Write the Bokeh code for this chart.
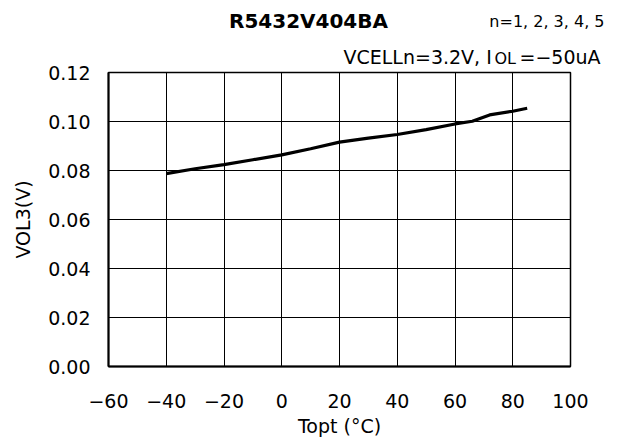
from bokeh.plotting import figure
from bokeh.models import Range1d, FixedTicker, NumeralTickFormatter
from bokeh.layouts import column
from bokeh.core.properties import value
from bokeh.embed import file_html
from bokeh.resources import INLINE

# ---- data ----
temps = [-40, -30, -20, -10, 0, 10, 20, 30, 40, 50, 60, 66, 72, 80, 85]
vol3 = [0.0787, 0.0807, 0.0824, 0.0844, 0.0864, 0.0889, 0.0916, 0.0932,
        0.0947, 0.0967, 0.0990, 0.1001, 0.1027, 0.1042, 0.1054]
x_ticks = [-60, -40, -20, 0, 20, 40, 60, 80, 100]
x_tick_labels = ["\u221260", "\u221240", "\u221220", "0", "20", "40", "60", "80", "100"]
y_ticks = [0.0, 0.02, 0.04, 0.06, 0.08, 0.10, 0.12]

title_text = "R5432V404BA"
cond1_text = "n=1, 2, 3, 4, 5"
cond2_a = "VCELLn=3.2V, I"
cond2_sub = "OL"
cond2_b = "=\u221250uA"

FONT = "DejaVu Sans"
W = 622

# ---- header (texts above the chart) ----
TOP_H = 70
ft = figure(width=W, height=TOP_H, output_backend="svg", toolbar_location=None,
            x_range=Range1d(0, W), y_range=Range1d(TOP_H, 0),
            min_border=0, x_axis_type=None, y_axis_type=None)
ft.frame_align = False
ft.outline_line_color = None
ft.grid.visible = False
ft.background_fill_color = "white"
ft.border_fill_color = "white"

ft.text(x=[308], y=[20.7], text=[title_text], text_align="center",
        text_baseline="alphabetic", text_font=value(FONT), text_font_size="20px",
        text_font_style="bold", text_color="black")
ft.text(x=[604], y=[21.3], text=[cond1_text], text_align="right",
        text_baseline="alphabetic", text_font=value(FONT), text_font_size="16px",
        text_color="black")
ft.text(x=[343], y=[56.3], text=[cond2_a], text_align="left",
        text_baseline="alphabetic", text_font=value(FONT), text_font_size="19px",
        text_color="black")
ft.text(x=[494], y=[57.5], text=[cond2_sub], text_align="left",
        text_baseline="alphabetic", text_font=value(FONT), text_font_size="16px",
        text_color="black")
ft.text(x=[519], y=[56.3], text=[cond2_b], text_align="left",
        text_baseline="alphabetic", text_font=value(FONT), text_font_size="19px",
        text_color="black")

# ---- main chart (pulled up so its transparent top border overlaps the header) ----
OVERLAP = 12
MAIN_TOP = TOP_H - OVERLAP
p = figure(width=W, height=442 - MAIN_TOP, output_backend="svg", toolbar_location=None,
           x_range=Range1d(-60, 100), y_range=Range1d(0, 0.12),
           min_border_left=108, min_border_right=W - 570,
           min_border_top=72 - MAIN_TOP, min_border_bottom=442 - 366)
p.frame_align = False
p.margin = (-OVERLAP, 0, 0, 0)

p.background_fill_color = "white"
p.border_fill_color = None
p.outline_line_color = "black"
p.outline_line_width = 1.5

p.xaxis.ticker = FixedTicker(ticks=x_ticks)
p.xaxis.major_label_overrides = {t: l for t, l in zip(x_ticks, x_tick_labels)}
p.yaxis.ticker = FixedTicker(ticks=y_ticks)
p.yaxis.formatter = NumeralTickFormatter(format="0.00")

for ax in (p.xaxis[0], p.yaxis[0]):
    ax.axis_line_color = "black"
    ax.axis_line_width = 2
    ax.major_tick_in = 0
    ax.major_tick_out = 0
    ax.minor_tick_in = 0
    ax.minor_tick_out = 0
    ax.major_label_text_font = FONT
    ax.major_label_text_font_size = "19px"
    ax.major_label_text_color = "black"
    ax.axis_label_text_font = FONT
    ax.axis_label_text_font_size = "19px"
    ax.axis_label_text_font_style = "normal"
    ax.axis_label_text_color = "black"

p.xaxis.axis_label = "Topt (\u00b0C)"
p.yaxis.axis_label = "VOL3(V)"
p.xaxis.major_label_standoff = 27
p.xaxis.axis_label_standoff = 4
p.yaxis.major_label_standoff = 18
p.yaxis.axis_label_standoff = 11

p.xgrid.ticker = FixedTicker(ticks=x_ticks)
p.ygrid.ticker = FixedTicker(ticks=y_ticks)
for g in (p.xgrid[0], p.ygrid[0]):
    g.grid_line_color = "black"
    g.grid_line_width = 1
    g.grid_line_alpha = 1.0

p.line(temps, vol3, line_color="black", line_width=3.2)

layout = column(ft, p, spacing=0)
open("out.html", "w").write(file_html(layout, INLINE))
